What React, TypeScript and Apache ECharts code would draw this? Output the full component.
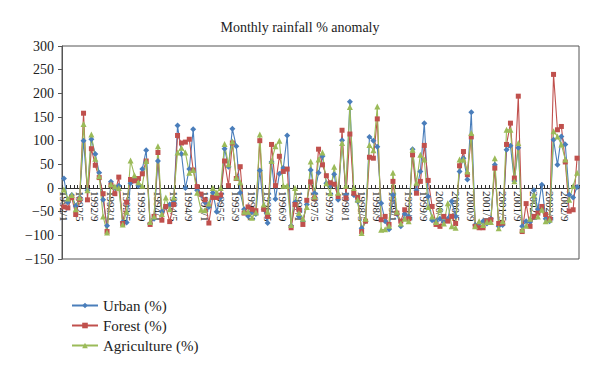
import React, { useEffect, useRef } from "react";
import * as echarts from "echarts";

const years = [1992, 1993, 1994, 1995, 1996, 1997, 1998, 1999, 2000, 2001, 2002];
const months = [1, 2, 3, 4, 5, 6, 7, 8, 9, 10, 11, 12];
const categories: string[] = [];
years.forEach((y) => months.forEach((m) => categories.push(`${y}/${m}`)));

const urban = [
  20, -30, -15, -38, -20, 100, -5, 103, 72, 32, -25, -80,
  13, 0, 5, -72, -73, 10, 18, 5, 40, 80, -75, -65,
  57, -50, -40, -35, -30, 132, 72, 0, 40, 124, -5, -15,
  -30, -40, -10, -50, -20, 83, 45, 125, 88, -10, -45, -59,
  -50, -55, 37, -45, -74, 55, -23, 30, 42, 111, -80, -30,
  -60, -70, -35, 38, -11, 32, 67, 10, 5, 29, -25, 101,
  -15, 182, -15, -28, -85, -70, 108, 100, 87, -32, -70, -87,
  -15, -55, -81, -55, -60, 82, -5, 35, 137, -18, -68, -70,
  -65, -72, -65, -28, -60, 35, 63, 18, 160, -78, -75, -70,
  -75, -65, 49, -81, -78, 81, 89, 15, 85, -81, -70, -72,
  -5, -45, 7, -65, -70, 102, 49, 109, 92, -14, -20, 2,
];
const forest = [
  -40, -42, -20, -56, -24, 158, -25, 83, 48, 22, -12, -92,
  6, -12, 23, -75, -30, 18, 15, 20, 30, 57, -77, -60,
  75, -68, -39, -71, -35, 111, 95, 97, 103, 38, 3, -13,
  -25, -74, -20, -20, -15, 57, 5, 95, 20, 45, -53, -40,
  -45, -48, 100, -45, -60, 92, 5, 67, 35, 40, -84, -35,
  -46, -77, -26, 13, -21, 82, 49, 26, 11, 8, -18, 122,
  -21, 114, -11, -20, -92, -70, 65, 63, 146, -67, -60, -77,
  14, -53, -70, -46, -65, 70, -11, 14, 90, 16, -39, -77,
  -81, -60, -70, -60, -75, 47, 77, 28, 108, -81, -84, -84,
  -70, -67, 42, -75, -74, 92, 137, 21, 194, -92, -33, -81,
  -60, -53, -39, -56, -65, 240, 123, 130, 55, -49, -46, 63,
];
const agriculture = [
  -3, -22, -15, -45, -20, 135, -5, 113, 62, 25, -60, -94,
  8, 3, 0, -77, -50, 58, 27, 12, 5, 57, -72, -60,
  88, -55, -20, -45, -20, 75, 85, 75, 32, 38, -10, -46,
  -47, -33, 0, -10, 0, 93, 50, 98, 22, 12, -50, -50,
  -63, -52, 113, -35, -50, 57, 88, 100, 5, 5, -78, 0,
  -53, -65, -40, 56, -18, 60, 75, 10, -11, 45, -10, 95,
  5, 171, 0, -25, -95, -65, 91, 80, 172, -88, -87, -80,
  32, -50, -75, -65, -70, 81, 11, 70, 60, -40, -60, -72,
  -45, -75, -32, -81, -84, 60, 60, 35, 116, -81, -70, -78,
  -72, -72, 63, -85, -70, 123, 123, 14, 95, -88, -80, -65,
  -14, -60, -46, -70, -67, 120, 109, 92, 60, -25, 4, 32,
];
const yTicks = [-150, -100, -50, 0, 50, 100, 150, 200, 250, 300];

const FONT = "'Liberation Serif', 'DejaVu Serif', serif";

const GRID_TOP = 46;
const GRID_BOTTOM = 118;
const CHART_H = 377;

export default function App() {
  const ref = useRef<HTMLDivElement>(null);
  useEffect(() => {
    if (!ref.current) return;
    const chart = echarts.init(ref.current, undefined, { renderer: "svg" });
    const yMin = yTicks[0];
    const yMax = yTicks[yTicks.length - 1];
    const plotH = CHART_H - GRID_TOP - GRID_BOTTOM;
    const zeroOffset = ((0 - yMin) / (yMax - yMin)) * plotH;
    const mk = (name: string, data: number[], color: string, symbol: string, size: number) => ({
      name,
      type: "line",
      data,
      symbol,
      symbolSize: size,
      showSymbol: true,
      showAllSymbol: true,
      lineStyle: { color, width: 1.1 },
      itemStyle: { color },
      z: 3,
    });
    chart.setOption({
      animation: false,
      backgroundColor: "#ffffff",
      textStyle: { fontFamily: FONT },
      title: {
        text: "Monthly rainfall % anomaly",
        left: "center",
        top: 15,
        textStyle: { fontFamily: FONT, fontSize: 14, fontWeight: "normal", color: "#222" },
      },
      legend: {
        orient: "vertical",
        left: 66,
        top: 293,
        itemGap: 5,
        itemWidth: 26,
        itemHeight: 7,
        textStyle: { fontFamily: FONT, fontSize: 15, color: "#222" },
        data: ["Urban (%)", "Forest (%)", "Agriculture (%)"],
      },
      grid: {
        left: 62,
        right: 21,
        top: GRID_TOP,
        bottom: GRID_BOTTOM,
        show: true,
        borderColor: "#555",
        borderWidth: 1,
        backgroundColor: "transparent",
      },
      xAxis: {
        type: "category",
        data: categories,
        boundaryGap: true,
        offset: -zeroOffset,
        axisLine: { onZero: false, lineStyle: { color: "#333", width: 1 } },
        axisTick: { show: true, inside: true, length: 3, interval: 0, lineStyle: { color: "#333" } },
        axisLabel: {
          interval: 3,
          rotate: -90,
          fontFamily: FONT,
          fontSize: 11,
          color: "#222",
          margin: 3,
        },
        splitLine: { show: false },
      },
      yAxis: {
        type: "value",
        min: yMin,
        max: yMax,
        interval: 50,
        axisLine: { show: true, lineStyle: { color: "#555" } },
        axisTick: { show: true, length: 4, lineStyle: { color: "#555" } },
        axisLabel: {
          fontFamily: FONT,
          fontSize: 14,
          color: "#222",
          margin: 8,
          formatter: (v: number) => String(v).replace("-", "\u2212"),
        },
        splitLine: { show: false },
      },
      series: [
        mk("Urban (%)", urban, "#4a7ebb", "diamond", 6),
        mk("Forest (%)", forest, "#c0504d", "rect", 5),
        mk("Agriculture (%)", agriculture, "#9bbb59", "triangle", 6),
      ],
    });
    return () => chart.dispose();
  }, []);
  return <div ref={ref} style={{ width: 600, height: 377, margin: -8 }} />;
}
